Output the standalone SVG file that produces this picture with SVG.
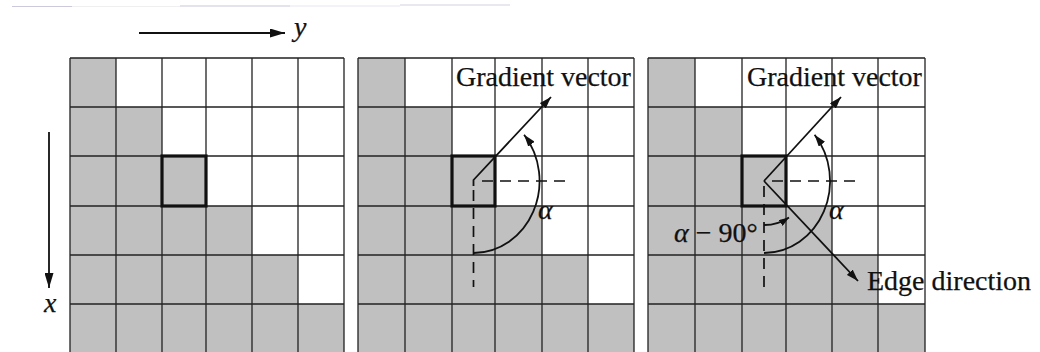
<svg xmlns="http://www.w3.org/2000/svg" width="1040" height="352" viewBox="0 0 1040 352">
  <defs>
    <style>
      .gray { fill: #c0c0c0; stroke: none; }
      .grid { stroke: #222; stroke-width: 1.3; fill: none; }
      .hl { fill: none; stroke: #111; stroke-width: 3.2; }
      .line { stroke: #111; stroke-width: 1.8; fill: none; }
      .dash { stroke: #111; stroke-width: 1.7; fill: none; stroke-dasharray: 11 7; }
      .lbl { font-family: "Liberation Serif", "Times New Roman", serif; font-size: 28px; fill: #111; stroke: #111; stroke-width: 0.25; }
      .it { font-style: italic; }
      .scan { stroke-width: 1.2; }
    </style>
    <marker id="ah" viewBox="0 0 12 8" refX="12" refY="4" markerWidth="12" markerHeight="8" markerUnits="userSpaceOnUse" orient="auto">
      <path d="M0,0 L12,4 L0,8 z" fill="#111"/>
    </marker>
    <marker id="ahBig" viewBox="0 0 15 9" refX="15" refY="4.5" markerWidth="15" markerHeight="9" markerUnits="userSpaceOnUse" orient="auto">
      <path d="M0,0 L15,4.5 L0,9 z" fill="#111"/>
    </marker>
    <marker id="ahSm" viewBox="0 0 10 7" refX="10" refY="3.5" markerWidth="10" markerHeight="7" markerUnits="userSpaceOnUse" orient="auto">
      <path d="M0,0 L10,3.5 L0,7 z" fill="#111"/>
    </marker>
  </defs>

  <rect x="0" y="0" width="1040" height="352" fill="#ffffff"/>

  <!-- faint scan lines at top -->
  <g id="scan-artifact" class="scan">
    <line x1="12" y1="6.5" x2="72" y2="6.5" stroke="#cdc8dc"/>
    <line x1="72" y1="6.5" x2="180" y2="6.5" stroke="#efefef"/>
    <line x1="180" y1="6" x2="290" y2="6" stroke="#cbc5dd"/>
    <line x1="290" y1="6" x2="400" y2="6" stroke="#e9e6ef"/>
    <line x1="400" y1="5" x2="510" y2="5" stroke="#d3cfe2"/>
  </g>

  <!-- Panel 1 -->
  <g id="grid1">
    <polygon class="gray" points="70,58 116,58 116,107 162,107 162,156 206,156 206,206 252,206 252,255 298,255 298,304 344,304 344,352 70,352"/>
    <path class="grid" d="M70,58V352 M116,58V352 M162,58V352 M206,58V352 M252,58V352 M298,58V352 M344,58V352 M70,58H344 M70,107H344 M70,156H344 M70,206H344 M70,255H344 M70,304H344"/>
    <rect class="hl" x="162" y="156" width="44" height="50"/>
  </g>

  <!-- Panel 2 -->
  <g id="grid2">
    <polygon class="gray" points="358,58 405,58 405,107 452,107 452,156 495,156 495,206 542,206 542,255 588,255 588,304 634,304 634,352 358,352"/>
    <path class="grid" d="M358,58V352 M405,58V352 M452,58V352 M495,58V352 M542,58V352 M588,58V352 M634,58V352 M358,58H634 M358,107H634 M358,156H634 M358,206H634 M358,255H634 M358,304H634"/>
    <rect class="hl" x="452" y="156" width="43" height="50"/>
  </g>

  <!-- Panel 3 -->
  <g id="grid3">
    <polygon class="gray" points="648,58 695,58 695,107 742,107 742,156 786,156 786,206 832,206 832,255 878,255 878,304 925,304 925,352 648,352"/>
    <path class="grid" d="M648,58V352 M695,58V352 M742,58V352 M786,58V352 M832,58V352 M878,58V352 M925,58V352 M648,58H925 M648,107H925 M648,156H925 M648,206H925 M648,255H925 M648,304H925"/>
    <rect class="hl" x="742" y="156" width="44" height="50"/>
  </g>

  <!-- Connectors -->
  <g id="connectors">
    <!-- axes -->
    <line class="line" x1="139" y1="33" x2="285" y2="33" marker-end="url(#ahBig)"/>
    <line class="line" x1="49" y1="132" x2="49" y2="288" marker-end="url(#ahBig)"/>

    <!-- panel 2 -->
    <path class="line" d="M473.5,186 L473.5,180 L551,97" marker-end="url(#ah)"/>
    <line class="dash" x1="482" y1="181" x2="571" y2="181"/>
    <line class="dash" x1="473.5" y1="190" x2="473.5" y2="287"/>
    <path class="line" d="M473.5,253 A66,72 0 0 0 524.1,134.7" marker-end="url(#ah)"/>

    <!-- panel 3 -->
    <line class="line" x1="764" y1="181" x2="841" y2="97" marker-end="url(#ah)"/>
    <line class="line" x1="764" y1="181" x2="858" y2="281" marker-end="url(#ah)"/>
    <line class="dash" x1="772" y1="181" x2="862" y2="181"/>
    <line class="dash" x1="764" y1="186" x2="764" y2="287"/>
    <path class="line" d="M764,253 A66,72 0 0 0 814.6,134.7" marker-end="url(#ah)"/>
    <path class="line" d="M764,225 A44,44 0 0 0 789,217.5" marker-end="url(#ahSm)"/>
  </g>

  <!-- Labels -->
  <g id="labels">
    <text class="lbl it" x="294" y="36">y</text>
    <text class="lbl it" x="44" y="312">x</text>
    <text class="lbl" x="456" y="86">Gradient vector</text>
    <text class="lbl it" x="538" y="219">α</text>
    <text class="lbl" x="747" y="86">Gradient vector</text>
    <text class="lbl it" x="829" y="219">α</text>
    <text class="lbl" x="674" y="242"><tspan class="it">α</tspan> − 90°</text>
    <text class="lbl" x="867" y="290">Edge direction</text>
  </g>
</svg>
